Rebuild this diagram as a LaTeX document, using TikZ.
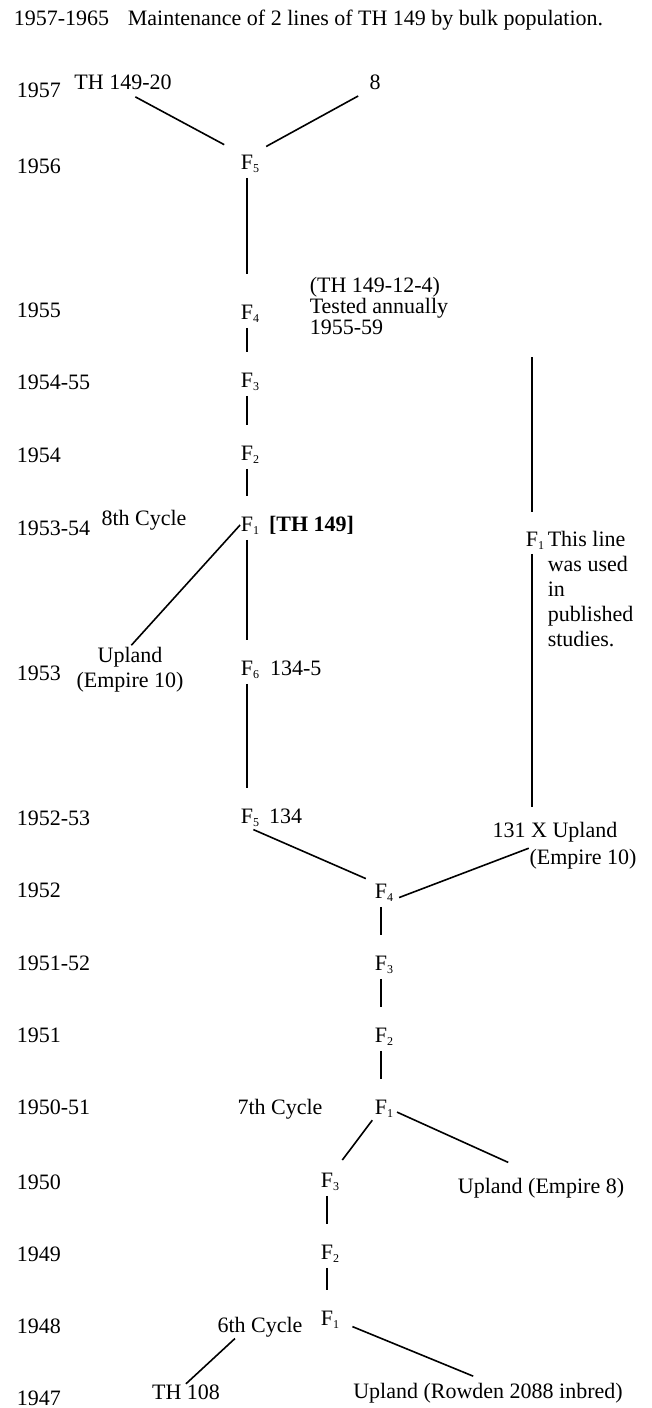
\documentclass[tikz,border=0pt]{standalone}
\usepackage{fontspec}
\setmainfont{Liberation Serif}
\usepackage{tikz}

\newcommand\fgen[2][]{F\rlap{\raisebox{-3pt}{\fontsize{12}{12}\selectfont #2}#1}}

\begin{document}
\begin{tikzpicture}[x=1pt, y=-1pt, line width=1.6pt,
        every node/.style={inner sep=0pt, font=\fontsize{22}{25}\selectfont},
        yr/.style={anchor=west},
        fnode/.style={text height=15pt, text depth=3pt},
        vlink/.style={shorten <=5pt, shorten >=19pt}]
        % Frame
        \useasboundingbox (0,0) rectangle (652,1408);

        % Title
        \node[anchor=west] (title) at (13,20) {1957-1965\hspace{0.6em} Maintenance of 2 lines of TH 149 by bulk population.};

        % Years
        \node[yr] (y1957) at (16,90) {1957};
        \node[yr] (y1956) at (16,166) {1956};
        \node[yr] (y1955) at (16,310) {1955};
        \node[yr] (y1954b) at (16,382) {1954-55};
        \node[yr] (y1954) at (16,455) {1954};
        \node[yr] (y1953b) at (16,528) {1953-54};
        \node[yr] (y1953) at (16,673) {1953};
        \node[yr] (y1952b) at (16,818) {1952-53};
        \node[yr] (y1952) at (16,890) {1952};
        \node[yr] (y1951b) at (16,963) {1951-52};
        \node[yr] (y1951) at (16,1035) {1951};
        \node[yr] (y1950b) at (16,1107) {1950-51};
        \node[yr] (y1950) at (16,1182) {1950};
        \node[yr] (y1949) at (16,1254) {1949};
        \node[yr] (y1948) at (16,1326) {1948};
        \node[yr] (y1947) at (16,1398) {1947};

        % Upper line
        \node (th14920) at (123,82) {TH 149-20};
        \node (eight) at (375,82) {8};
        \node[fnode] (f5top) at (247,163) {\fgen{5}};
        \node[fnode] (f4top) at (247,313) {\fgen{4}};
        \node[anchor=north west, align=left, font=\fontsize{22}{21}\selectfont] (tested) at (309,276) {(TH 149-12-4)\\Tested annually\\1955-59};
        \node[fnode] (f3top) at (247,381) {\fgen{3}};
        \node[fnode] (f2top) at (247,454) {\fgen{2}};
        \node (cycle8) at (144,520) {8th Cycle};
        \node[fnode] (f1top) at (247,525) {\fgen[{\hspace{0.45em}\textbf{[TH 149]}}]{1}};
        \node[align=center] (uplandA) at (130,670) {Upland\\(Empire 10)};
        \node[fnode] (f6) at (247,669) {\fgen[{\hspace{0.5em}134-5}]{6}};
        \node[fnode] (f5b) at (247,817) {\fgen[{\hspace{0.45em}134}]{5}};

        % Right line
        \coordinate (rtop) at (532,357);
        \node[fnode] (f1r) at (532,540) {\fgen{1}};
        \node[anchor=north west, align=left] (usedline) at (547,530) {This line\\was used\\in\\published\\studies.};
        \node (cross131) at (555,832) {131 X Upland};
        \node (empire10) at (583,859) {(Empire 10)};

        % Lower line
        \node[fnode] (f4b) at (381,892) {\fgen{4}};
        \node[fnode] (f3b) at (381,964) {\fgen{3}};
        \node[fnode] (f2b) at (381,1036) {\fgen{2}};
        \node (cycle7) at (280,1109) {7th Cycle};
        \node[fnode] (f1b) at (381,1108) {\fgen{1}};
        \node[fnode] (f3c) at (327,1181) {\fgen{3}};
        \node (uplandE8) at (541,1188) {Upland (Empire 8)};
        \node[fnode] (f2c) at (327,1253) {\fgen{2}};
        \node (cycle6) at (260,1327) {6th Cycle};
        \node[fnode] (f1c) at (327,1319) {\fgen{1}};
        \node (th108) at (186,1392) {TH 108};
        \node (uplandR) at (488,1393) {Upland (Rowden 2088 inbred)};

        % Connectors
        \draw[shorten <=14pt, shorten >=18pt] (th14920.south) -- (f5top.north west);
        \draw[shorten <=12pt, shorten >=14pt] (eight.south west) -- (f5top.north east);
        \draw[vlink, shorten >=29pt] (f5top) -- (f4top);
        \draw[vlink] (f4top) -- (f3top);
        \draw[vlink] (f3top) -- (f2top);
        \draw[vlink] (f2top) -- (f1top);
        \draw[shorten <=2pt] (uplandA.north) -- (f1top.west);
        \draw[vlink] (f1top) -- (f6);
        \draw[vlink] (f6) -- (f5b);
        \draw[shorten <=7pt, shorten >=9pt] (f5b.south) -- (f4b.north west);
        \draw[shorten >=18pt] (rtop) -- (f1r.north);
        \draw[shorten <=4pt, shorten >=14pt] (f1r.south) -- (f1r.south |- cross131.north);
        \draw[shorten >=12pt] (empire10.north west) -- (f4b.south east);
        \draw[vlink] (f4b) -- (f3b);
        \draw[vlink] (f3b) -- (f2b);
        \draw[vlink] (f2b) -- (f1b);
        \draw[shorten <=3pt, shorten >=14pt] (f1b.south west) -- (f3c.north east);
        \draw[shorten <=10pt, shorten >=36pt] (f1b.east) -- (uplandE8.north);
        \draw[vlink] (f3c) -- (f2c);
        \draw[vlink] (f2c) -- (f1c);
        \draw[shorten <=20pt, shorten >=16pt] (f1c.east) -- (uplandR.north);
        \draw[shorten <=1pt] (cycle6.204) -- (th108.north);

\end{tikzpicture}
\end{document}
